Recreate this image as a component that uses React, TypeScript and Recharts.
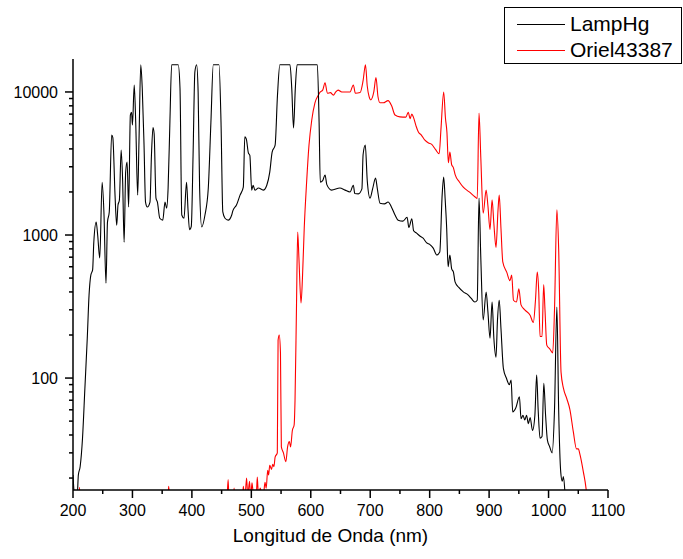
import { LineChart, Line, XAxis, YAxis } from "recharts";

// LampHg spectrum (nm, counts)
const lampHgNm = [
  200, 203, 207, 209, 212, 216, 220, 224, 227, 230, 233, 235, 239, 241.5, 245, 249, 252, 255.5, 258, 261,
  265, 267, 270.7, 273.5, 275.7, 278, 281, 283.5, 286, 288.6, 291, 293.6, 296.5, 298.5, 300, 303, 305.5,
  308.8, 311, 314, 316.5, 319.5, 322, 325, 329.5, 332, 334.6, 336.5, 339.6, 342, 346, 351, 354.8, 357.6,
  360, 363, 366, 377, 380, 383, 386.7, 391, 393.5, 396, 399, 402, 405, 408, 410.5, 413, 416.5, 422, 427.6,
  432, 436, 445.6, 449, 452, 455.7, 461, 467, 469, 475, 481, 486.5, 489, 491.5, 495, 497.5, 500.6, 503,
  506, 512, 520, 526, 531, 535, 540, 544, 548, 565, 568, 571, 574, 577, 611, 614, 616, 620, 624, 627, 635,
  649, 657.6, 666, 671.6, 674, 680, 686, 688, 691.7, 695, 699.7, 704, 709, 712, 716.5, 724, 730, 736,
  741.7, 747, 755, 762, 765, 770, 773, 778, 784, 789, 795, 800, 806, 812, 817, 821, 823.6, 826, 828.6,
  831, 834, 837, 840, 842.7, 849, 856.6, 865, 870, 876, 880, 883, 886, 890, 895, 898, 901.5, 905, 908,
  911.6, 914, 917, 920, 924, 929, 934, 937, 939.7, 945, 951, 953.7, 957, 960, 963, 966, 969, 973, 977,
  980, 982.5, 985.7, 989, 992, 995, 998, 1002, 1006, 1010, 1014, 1017, 1020.5, 1023, 1025, 1027.5,
];
const lampHgCounts = [
  21, 15, 15, 21, 24, 38, 85, 190, 380, 525, 570, 890, 1230, 1000, 690, 2340, 1450, 460, 1230, 1450,
  5000, 4800, 1900, 1170, 1620, 1750, 3930, 2400, 890, 2760, 3240, 1570, 6900, 7200, 5880, 11200, 6150,
  1900, 4500, 15500, 10600, 4250, 1700, 1570, 1700, 3640, 5650, 5100, 1810, 1700, 1310, 1270, 1700, 1540,
  2130, 6150, 15500, 15500, 10600, 1380, 1310, 2340, 1500, 1090, 1150, 3640, 13800, 15500, 10000, 2130, 1140, 1380, 2130,
  6150, 15500, 15500, 6150, 1450, 1310, 1270, 1380, 1480, 1620, 1900, 2160, 4850, 4700, 3750, 3600, 2060, 2230,
  2060, 2130, 2060, 2230, 2750, 3800, 4250, 9500, 15500, 15500, 10600, 5600, 10600, 15500, 15500, 6150, 2340, 2400, 2630, 2250, 2060,
  2130, 2060, 2000, 2230, 1950, 1940, 2100, 3640, 4250, 2400, 1810, 2100, 2500, 2100, 1670, 1650, 1700, 1560,
  1380, 1270, 1250, 1330, 1130, 1300, 1070, 1030, 980, 950, 880, 860, 810, 725, 760, 1900, 2540, 1800, 1120,
  600, 725, 580, 550, 470, 430, 400, 380, 360, 340, 350, 1810, 700, 255, 400, 290, 190, 340, 190,
  140, 250, 350, 220, 117, 100, 90, 97, 58, 62, 74, 52, 55, 51, 55, 48, 53, 43, 55,
  105, 60, 38, 39, 92, 55, 37, 33, 30, 60, 314, 60, 22, 19, 20.5, 16,
];

// Oriel43387 spectrum (nm, counts)
const orielNm = [
  200, 202, 209, 211, 213, 358, 361, 364, 458, 461, 463, 469, 471, 473, 484, 486.5, 489, 492, 494, 497,
  499, 501, 503, 505, 508, 510, 512, 515, 518, 521, 523, 525, 527.5, 529, 531, 534, 536, 538, 540, 543.7,
  545, 547, 549, 550.5, 554, 558, 561, 564, 566, 569, 572, 573.5, 576, 578, 580, 583.6, 586, 589, 593, 597,
  601.6, 607, 612.7, 616, 620, 624, 628, 633, 638, 642, 646, 652, 660, 666, 671.6, 675, 683, 688, 692, 695,
  698, 701, 706, 709.7, 713, 716.5, 722, 730, 736, 741.7, 750, 760, 764, 767, 770, 772.6, 777, 781, 786, 792,
  798, 803.5, 810, 816, 819, 823.6, 826.5, 829, 831.5, 834, 837, 840, 843, 850, 856.6, 866.6, 876, 880, 883, 886,
  890, 895, 898, 901.5, 905, 908, 911.6, 915, 917, 920, 923, 929.6, 935, 938, 941, 946, 950, 953.7, 960, 969,
  974.4, 978, 981, 983.5, 985.7, 989, 991.8, 994, 997, 1002, 1007, 1010, 1014, 1017, 1021, 1025, 1030.6, 1036,
  1041.7, 1047, 1050, 1053, 1058.6, 1063, 1065,
];
const orielCounts = [
  17.5, 12, 12, 17.2, 12, 12, 17.5, 12, 12, 19.5, 12, 12, 17, 12, 12, 17.5, 14, 20, 15, 19,
  14, 18.5, 16, 15, 14, 20.3, 15, 17, 15, 16, 18.7, 17, 22.7, 21, 24.6, 23, 25, 24, 28, 30,
  184, 200, 150, 33, 30, 26, 33, 36, 33, 43, 47, 70, 324, 1050, 700, 335, 500, 1120, 2340, 4250,
  6340, 8400, 9500, 10000, 10300, 11600, 9800, 9900, 9500, 10000, 10300, 10000, 10000, 10000, 11200, 9800, 9900, 12000, 15500, 11000,
  9300, 8800, 10000, 12600, 9300, 8400, 8400, 8700, 8000, 6900, 6700, 6670, 7220, 6500, 7000, 6670, 5800, 5250, 5000, 4600,
  4400, 4300, 3950, 3700, 5500, 10000, 6600, 5250, 3200, 3800, 3100, 2950, 2630, 2350, 2160, 2000, 1850, 1800, 7130, 3500,
  1420, 2060, 1600, 1090, 1760, 1200, 820, 1500, 1900, 1100, 650, 550, 480, 525, 350, 340, 420, 325, 300, 275,
  245, 350, 550, 400, 195, 195, 450, 300, 170, 160, 150, 300, 1500, 800, 110, 85, 72, 60,
  42, 32, 32, 29, 22, 17, 14,
];

const xTicks = [200, 250, 300, 350, 400, 450, 500, 550, 600, 650, 700, 750, 800, 850, 900, 950, 1000, 1050, 1100];
const yTicks = [
  20, 30, 40, 50, 60, 70, 80, 90, 100, 200, 300, 400, 500, 600, 700, 800, 900,
  1000, 2000, 3000, 4000, 5000, 6000, 7000, 8000, 9000, 10000,
];
const yLabels = [100, 1000, 10000];
const seriesNames = ["LampHg", "Oriel43387"];
const seriesColors = ["#000000", "#ff0000"];

const lampHgData = lampHgNm.map((nm, i) => ({ nm, v: lampHgCounts[i] }));
const orielData = orielNm.map((nm, i) => ({ nm, v: orielCounts[i] }));

const font = "'Liberation Sans', Arial, sans-serif";

function XTick({ x, y, payload }: any) {
  const major = payload.value % 100 === 0;
  return (
    <g>
      <line x1={x} x2={x} y1={y} y2={y + (major ? 8 : 4)} stroke="#000" strokeWidth={1.5} />
      {major && (
        <text x={x} y={y + 26} textAnchor="middle" fontSize={16} fontFamily={font} fill="#000">
          {payload.value}
        </text>
      )}
    </g>
  );
}

function YTick({ x, y, payload }: any) {
  const major = yLabels.includes(payload.value);
  return (
    <g>
      <line x1={x} x2={x - (major ? 8 : 4)} y1={y} y2={y} stroke="#000" strokeWidth={1.5} />
      {major && (
        <text x={x - 15} y={y + 6} textAnchor="end" fontSize={16} fontFamily={font} fill="#000">
          {payload.value}
        </text>
      )}
    </g>
  );
}

export default function App() {
  return (
    <div style={{ position: "relative", width: 683, height: 559, background: "#fff" }}>
      <style>{"body{margin:0}"}</style>
      <LineChart width={683} height={559} margin={{ top: 59, right: 75, bottom: 9, left: 0 }}>
        <XAxis
          dataKey="nm"
          type="number"
          domain={[200, 1100]}
          ticks={xTicks}
          interval={0}
          tickSize={0}
          tickMargin={0}
          tickLine={false}
          axisLine={{ stroke: "#000", strokeWidth: 1.5 }}
          tick={<XTick />}
          height={60}
          allowDataOverflow
          label={{ value: "Longitud de Onda (nm)", position: "insideBottom", offset: 8, dx: -10, fontSize: 19, fontFamily: font, fill: "#000" }}
        />
        <YAxis
          type="number"
          scale="log"
          domain={[16.5, 17000]}
          ticks={yTicks}
          interval={0}
          tickSize={0}
          tickMargin={0}
          tickLine={false}
          axisLine={{ stroke: "#000", strokeWidth: 1.5 }}
          tick={<YTick />}
          width={73}
          allowDataOverflow
        />
        <Line data={orielData} dataKey="v" name={seriesNames[1]} stroke={seriesColors[1]} strokeWidth={1.1} dot={false} type="monotoneX" isAnimationActive={false} />
        <Line data={lampHgData} dataKey="v" name={seriesNames[0]} stroke={seriesColors[0]} strokeWidth={1.1} dot={false} type="monotoneX" isAnimationActive={false} />
      </LineChart>
      <div
        style={{
          position: "absolute",
          top: 7,
          left: 504,
          border: "1px solid #000",
          background: "#fff",
          width: 178,
          height: 57,
          boxSizing: "border-box",
          fontFamily: font,
          fontSize: 21,
          paddingTop: 3,
        }}
      >
        {seriesNames.map((name, i) => (
          <div key={name} style={{ display: "flex", alignItems: "center", height: 26 }}>
            <span style={{ display: "inline-block", width: 48, height: 0, borderTop: `1px solid ${seriesColors[i]}`, marginLeft: 12, marginRight: 5 }} />
            <span>{name}</span>
          </div>
        ))}
      </div>
    </div>
  );
}
